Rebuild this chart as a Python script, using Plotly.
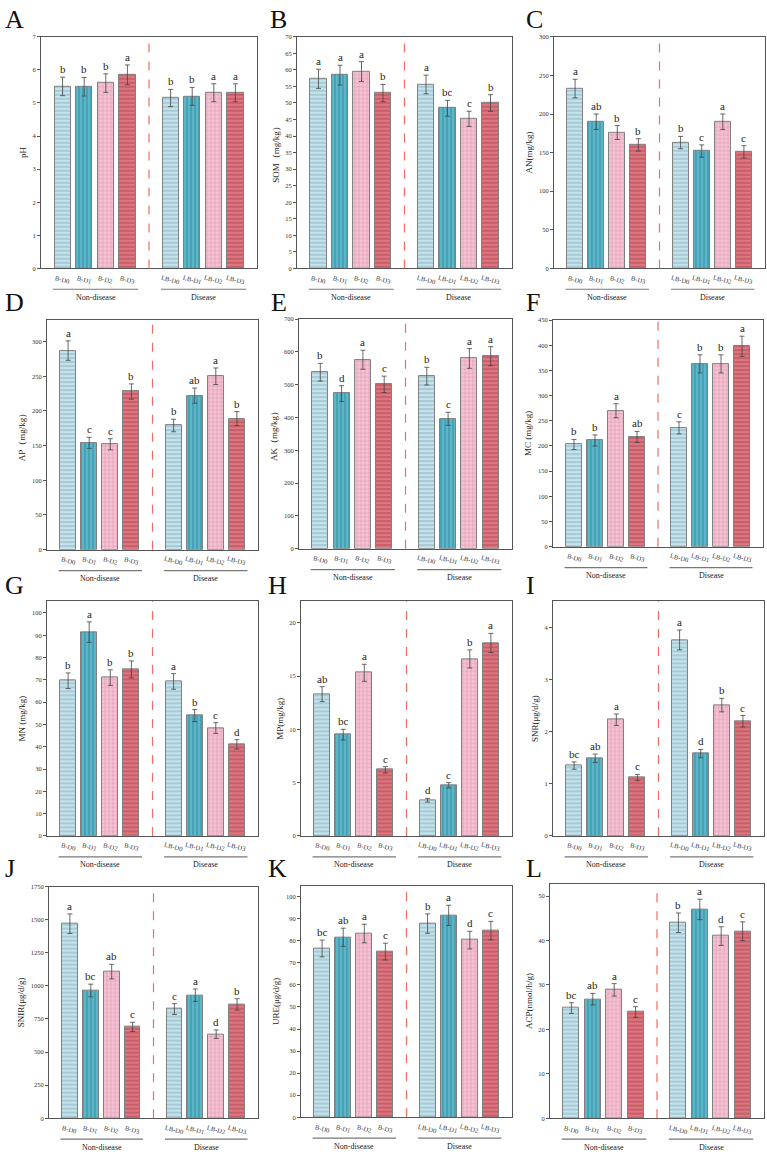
import plotly.graph_objects as go

# ---------------- data ----------------
categories = ["B-D0", "B-D1", "B-D2", "B-D3", "LB-D0", "LB-D1", "LB-D2", "LB-D3"]
x_pos = [1, 2, 3, 4, 6, 7, 8, 9]
group_labels = ["Non-disease", "Disease"]
panel_letters = ["A", "B", "C", "D", "E", "F", "G", "H", "I", "J", "K", "L"]
y_titles = ["pH", "SOM（mg/kg）", "AN(mg/kg)", "AP（mg/kg）", "AK（mg/kg）", "MC (mg/kg)",
            "MN (mg/kg)", "MP(mg/kg)", "SNR(μg/d/g)", "SNIR(μg/d/g)", "URE(μg/d/g)", "ACP(nmol/h/g)"]

pH_mean = [5.50, 5.49, 5.60, 5.85, 5.15, 5.20, 5.31, 5.31]
pH_err = [0.28, 0.28, 0.28, 0.30, 0.26, 0.27, 0.27, 0.27]
pH_sig = ["b", "b", "b", "a", "b", "b", "a", "a"]

SOM_mean = [57.3, 58.4, 59.5, 53.0, 55.6, 48.4, 45.2, 50.0]
SOM_err = [2.9, 3.0, 3.0, 2.6, 2.8, 2.4, 2.3, 2.5]
SOM_sig = ["a", "a", "a", "b", "a", "bc", "c", "b"]

AN_mean = [233, 190, 176, 160, 163, 152, 190, 151]
AN_err = [12, 10, 9, 8, 8, 8, 10, 8]
AN_sig = ["a", "ab", "b", "b", "b", "c", "a", "c"]

AP_mean = [287, 154, 152, 228, 179, 222, 250, 189]
AP_err = [14, 8, 8, 11, 9, 11, 12, 10]
AP_sig = ["a", "c", "c", "b", "b", "ab", "a", "b"]

AK_mean = [538, 473, 576, 501, 526, 396, 580, 587]
AK_err = [27, 24, 29, 25, 27, 20, 30, 29]
AK_sig = ["b", "d", "a", "c", "b", "c", "a", "a"]

MC_mean = [203, 211, 270, 218, 236, 363, 363, 398]
MC_err = [10, 11, 14, 11, 12, 18, 18, 20]
MC_sig = ["b", "b", "a", "ab", "c", "b", "b", "a"]

MN_mean = [69.6, 91.4, 71.0, 74.7, 69.3, 54.0, 48.4, 41.1]
MN_err = [3.5, 4.6, 3.5, 3.8, 3.5, 2.7, 2.4, 2.1]
MN_sig = ["b", "a", "b", "b", "a", "b", "c", "d"]

MP_mean = [13.3, 9.5, 15.3, 6.2, 3.35, 4.75, 16.6, 18.1]
MP_err = [0.7, 0.5, 0.8, 0.3, 0.17, 0.25, 0.85, 0.9]
MP_sig = ["ab", "bc", "a", "c", "d", "c", "b", "a"]

SNR_mean = [1.35, 1.49, 2.23, 1.12, 3.76, 1.58, 2.51, 2.20]
SNR_err = [0.07, 0.08, 0.11, 0.06, 0.19, 0.08, 0.13, 0.11]
SNR_sig = ["bc", "ab", "a", "c", "a", "d", "b", "c"]

SNIR_mean = [1470, 965, 1108, 690, 825, 930, 635, 860]
SNIR_err = [74, 48, 55, 35, 41, 47, 32, 43]
SNIR_sig = ["a", "bc", "ab", "c", "c", "a", "d", "b"]

URE_mean = [76.5, 81.6, 83.3, 75.1, 87.8, 91.5, 80.3, 84.6]
URE_err = [3.8, 4.1, 4.2, 3.8, 4.4, 4.6, 4.0, 4.2]
URE_sig = ["bc", "ab", "a", "c", "b", "a", "d", "c"]

ACP_mean = [24.8, 26.8, 28.9, 23.9, 44.0, 47.0, 41.0, 42.1]
ACP_err = [1.2, 1.3, 1.4, 1.2, 2.2, 2.3, 2.1, 2.1]
ACP_sig = ["bc", "ab", "a", "c", "b", "a", "d", "c"]

y_max = [7, 70, 300, 331, 700, 450, 105.2, 22.0, 4.5, 1750, 105, 52.8]
y_dtick = [1, 5, 50, 50, 100, 50, 10, 5, 1, 250, 10, 10]

means = [pH_mean, SOM_mean, AN_mean, AP_mean, AK_mean, MC_mean,
         MN_mean, MP_mean, SNR_mean, SNIR_mean, URE_mean, ACP_mean]
errs = [pH_err, SOM_err, AN_err, AP_err, AK_err, MC_err,
        MN_err, MP_err, SNR_err, SNIR_err, URE_err, ACP_err]
sigs = [pH_sig, SOM_sig, AN_sig, AP_sig, AK_sig, MC_sig,
        MN_sig, MP_sig, SNR_sig, SNIR_sig, URE_sig, ACP_sig]

# ---------------- styling ----------------
W, H = 767, 1159
FONT = "Liberation Serif"
# plot boxes in pixels: (left, right, top, bottom)
boxes = [(41, 257, 33, 266), (297, 512, 33, 266), (554, 765, 33, 266),
         (47, 258, 318, 549), (299, 512, 317, 548), (553, 763, 318, 546),
         (47, 258, 601, 837), (301, 512, 601, 837), (553, 764, 601, 837),
         (49, 258, 888, 1121), (301, 512, 887, 1120), (550, 764, 885, 1121)]
letter_pos = [(3, 16), (268, 16), (524, 16),
              (3, 300), (269, 300), (524, 300),
              (3, 585), (266, 585), (524, 585),
              (3, 870), (266, 870), (524, 870)]

styles = [
    dict(shape="-", bg="#c4e4ed", fg="#86a9b6"),
    dict(shape="|", bg="#5cb6ca", fg="#2f8599"),
    dict(shape="+", bg="#f5c3d3", fg="#d68ca6"),
    dict(shape="-", bg="#df757f", fg="#a4414d"),
]

fig = go.Figure()
shapes = []
annotations = []
layout = {}

for i in range(12):
    n = i + 1
    xa = "x" if n == 1 else f"x{n}"
    ya = "y" if n == 1 else f"y{n}"
    xkey = "xaxis" if n == 1 else f"xaxis{n}"
    ykey = "yaxis" if n == 1 else f"yaxis{n}"
    l, r, t, b = boxes[i]
    m, e, s = means[i], errs[i], sigs[i]

    for k in range(4):
        st = styles[k]
        fig.add_trace(go.Bar(
            x=[x_pos[k], x_pos[k + 4]], y=[m[k], m[k + 4]],
            width=0.75, xaxis=xa, yaxis=ya, showlegend=False,
            marker=dict(color=st["bg"], line=dict(color="#808080", width=1),
                        pattern=dict(shape=st["shape"], fgcolor=st["fg"], bgcolor=st["bg"],
                                     size=4, solidity=0.22, fillmode="replace")),
            error_y=dict(type="data", array=[e[k], e[k + 4]], color="#444444",
                         thickness=0.8, width=2.5),
        ))

    layout[xkey] = dict(domain=[l / W, r / W], anchor=ya, range=[0, 10],
                        tickvals=x_pos, showticklabels=False,
                        showline=True, mirror=True, linecolor="#555", linewidth=1,
                        showgrid=False, zeroline=False, ticks="", fixedrange=True)
    layout[ykey] = dict(domain=[1 - b / H, 1 - t / H], anchor=xa, range=[0, y_max[i]],
                        dtick=y_dtick[i], ticks="outside", ticklen=3, tickcolor="#555",
                        tickfont=dict(size=6.5, family=FONT, color="#333"),
                        title=dict(text=y_titles[i], font=dict(size=9, family=FONT, color="#222"),
                                   standoff=4),
                        showline=True, mirror=True, linecolor="#555", linewidth=1,
                        showgrid=False, zeroline=False, fixedrange=True)

    # category labels (slightly tilted)
    ty = 1 - (b + 11) / H
    for j in range(8):
        annotations.append(dict(xref=xa, yref="paper", x=x_pos[j], y=ty, text=categories[j],
                                showarrow=False, textangle=15, xanchor="center", yanchor="middle",
                                font=dict(size=6.6, family=FONT, color="#333")))
    # dashed separator
    shapes.append(dict(type="line", xref=xa, yref=f"{ya} domain", x0=5, x1=5, y0=0, y1=1,
                       line=dict(color="#ef6e63", width=1.2, dash="dash")))
    # group underline + labels
    gy = 1 - (b + 21) / H
    ly = 1 - (b + 29) / H
    for gx0, gx1, lab in [(0.55, 4.5, group_labels[0]), (5.55, 9.5, group_labels[1])]:
        shapes.append(dict(type="line", xref=xa, yref="paper", x0=gx0, x1=gx1, y0=gy, y1=gy,
                           line=dict(color="#777", width=1.2)))
        annotations.append(dict(xref=xa, yref="paper", x=(gx0 + gx1) / 2, y=ly, text=lab,
                                showarrow=False, yanchor="middle",
                                font=dict(size=8, family=FONT, color="#222")))
    # significance letters
    for j in range(8):
        annotations.append(dict(xref=xa, yref=ya, x=x_pos[j], y=m[j] + e[j], text=s[j],
                                showarrow=False, yanchor="bottom", yshift=0,
                                font=dict(size=11, family=FONT, color="#222")))
    # panel letter
    px, py = letter_pos[i]
    annotations.append(dict(xref="paper", yref="paper", x=px / W, y=1 - py / H, text=panel_letters[i],
                            showarrow=False, xanchor="left", yanchor="middle",
                            font=dict(size=26, family=FONT, color="#111")))

fig.update_layout(
    width=W, height=H, margin=dict(l=0, r=0, t=0, b=0),
    paper_bgcolor="white", plot_bgcolor="white", bargap=0,
    font=dict(family=FONT, color="#222"),
    shapes=shapes, annotations=annotations, **layout,
)

fig.write_html("out.html")
